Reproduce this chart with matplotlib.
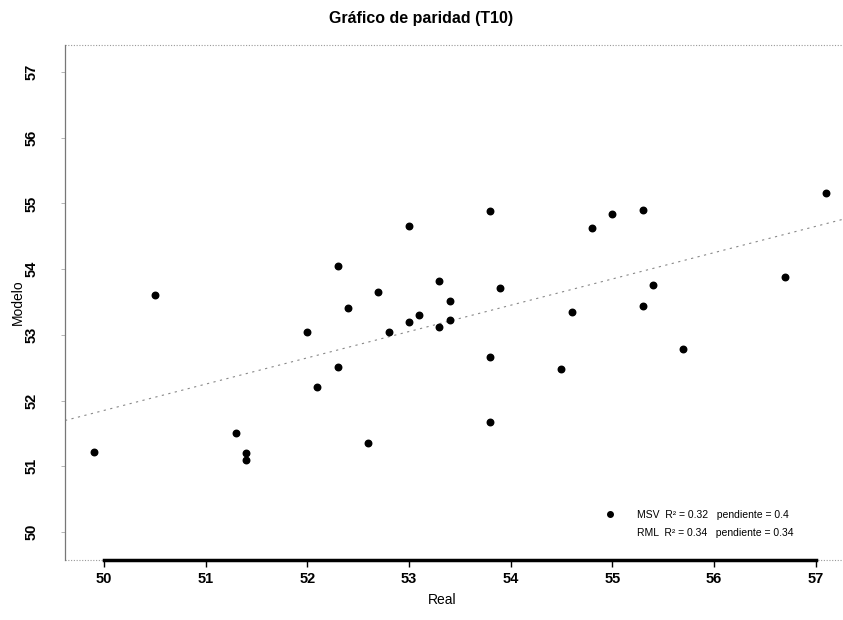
import numpy as np
import matplotlib
matplotlib.use('Agg')
from matplotlib import pyplot as plt
from matplotlib.lines import Line2D

# valores
real = [49.9, 50.5, 51.3, 51.4, 51.4, 52.0, 52.1, 52.3, 52.3, 52.4,
        52.6, 52.7, 52.8, 53.0, 53.0, 53.1, 53.3, 53.3, 53.4, 53.4,
        53.8, 53.9, 53.8, 53.8, 54.6, 54.5, 54.8, 55.0, 55.3, 55.4,
        55.3, 55.7, 56.7, 57.1]
modelo = [51.22, 53.61, 51.50, 51.20, 51.10, 53.05, 52.21, 54.05, 52.51, 53.41,
          51.36, 53.65, 53.05, 54.66, 53.19, 53.30, 53.82, 53.12, 53.52, 53.22,
          54.89, 53.72, 52.67, 51.67, 53.35, 52.48, 54.63, 54.84, 54.90, 53.76,
          53.44, 52.79, 53.88, 55.16]

x_ticks = [50, 51, 52, 53, 54, 55, 56, 57]
y_ticks = [50, 51, 52, 53, 54, 55, 56, 57]

msv_slope = 0.4
msv_intercept = 31.85

legend_labels = ['MSV  R² = 0.32   pendiente = 0.4',
                 'RML  R² = 0.34   pendiente = 0.34']

plt.rcParams['font.family'] = ['Liberation Sans Narrow', 'Liberation Sans', 'DejaVu Sans']

fig = plt.figure(figsize=(8.43, 6.2), dpi=100)
ax = fig.add_axes([0.0771, 0.0968, 0.9229, 0.8306])
ax.set_xlim(49.616, 57.27)
ax.set_ylim(49.574, 57.41)

# recta de ajuste (punteada)
xl = np.array(ax.get_xlim())
ax.plot(xl, msv_intercept + msv_slope * xl, color='#888888', lw=0.8,
        ls=(0, (2, 4)), zorder=1)

ax.scatter(real, modelo, s=22, color='black', zorder=3)

# caja estilo R
for side in ['top', 'right']:
    ax.spines[side].set_visible(False)
ax.axhline(57.41, color='#999999', lw=0.8, ls=(0, (1, 1.5)), clip_on=False)
ax.axhline(49.574, color='#999999', lw=0.8, ls=(0, (1, 1.5)), clip_on=False, zorder=0)
ax.spines['left'].set_color('#777777')
ax.spines['left'].set_linewidth(0.9)
ax.spines['bottom'].set_bounds(x_ticks[0], x_ticks[-1])
ax.spines['bottom'].set_linewidth(2.5)
ax.spines['bottom'].set_color('black')

ax.set_xticks(x_ticks)
ax.set_yticks(y_ticks)
ax.set_xticklabels([str(t) for t in x_ticks], fontsize=10.5, fontweight='bold')
ax.set_yticklabels([str(t) for t in y_ticks], fontsize=10.5, fontweight='bold',
                   rotation=90, va='center')
ax.tick_params(axis='x', length=5, width=1, pad=4)
ax.tick_params(axis='y', length=3, width=0.6, color='#aaaaaa', pad=16)

ax.set_xlabel('Real', fontsize=10)
ax.set_ylabel('Modelo', fontsize=10)
ax.xaxis.set_label_coords(0.485, -0.065)
ax.yaxis.set_label_coords(-0.052, 0.5)
fig.suptitle('Gráfico de paridad (T10)', fontsize=11.5, fontweight='bold', y=0.982)

handles = [Line2D([], [], ls='none', marker='o', color='black', markersize=4),
           Line2D([], [], ls='none', marker='o', color='white', markersize=4)]
ax.legend(handles, legend_labels, loc='lower left', bbox_to_anchor=(0.675, 0.025),
          frameon=False, fontsize=7.5, handletextpad=1.6, labelspacing=0.75)

fig.savefig('out.png', dpi=100)
